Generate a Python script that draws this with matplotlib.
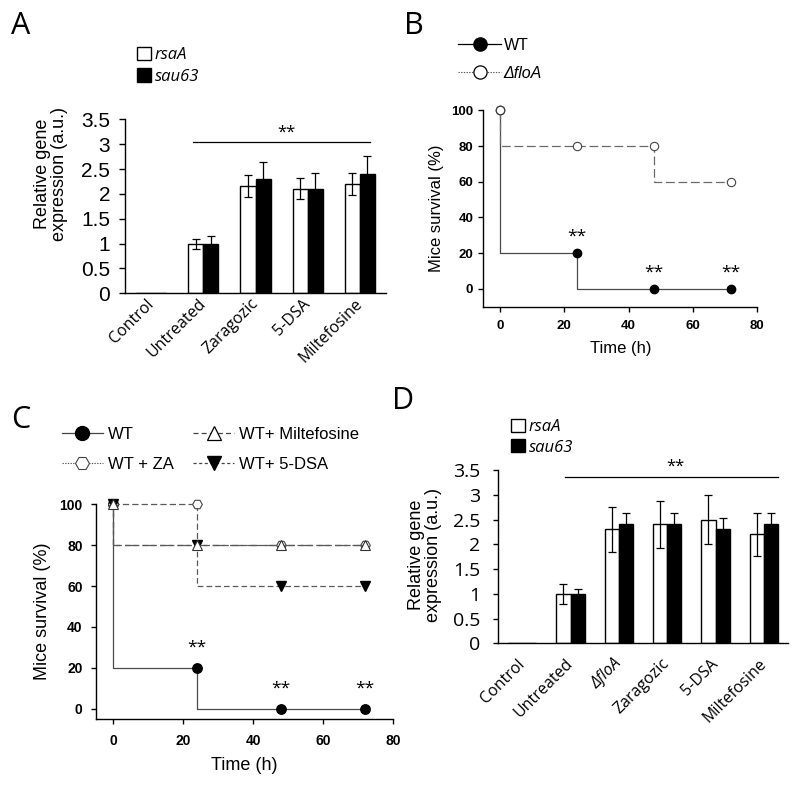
import matplotlib.pyplot as plt
from matplotlib.lines import Line2D
from matplotlib.ticker import FormatStrFormatter
from matplotlib.transforms import ScaledTranslation
import numpy as np

W, H = 800, 786
ARIAL = 'Liberation Sans'
CALIBRI = 'Open Sans'

# panel A - gene expression
a_categories = ["Control", "Untreated", "Zaragozic", "5-DSA", "Miltefosine"]
a_rsaA = [0, 1.0, 2.15, 2.1, 2.2]
a_rsaA_err = [0, 0.1, 0.22, 0.21, 0.22]
a_sau63 = [0, 1.0, 2.3, 2.1, 2.4]
a_sau63_err = [0, 0.15, 0.34, 0.32, 0.36]

# panel D - gene expression
d_categories = ["Control", "Untreated", "ΔfloA", "Zaragozic", "5-DSA", "Miltefosine"]
d_rsaA = [0, 1.0, 2.3, 2.4, 2.5, 2.2]
d_rsaA_err = [0, 0.2, 0.45, 0.48, 0.5, 0.43]
d_sau63 = [0, 1.0, 2.4, 2.4, 2.3, 2.4]
d_sau63_err = [0, 0.1, 0.24, 0.24, 0.24, 0.24]

# panels B, C - survival
time_h = [0, 24, 48, 72]
b_wt = [100, 20, 0, 0]
b_floA = [100, 80, 80, 60]
c_wt = [100, 20, 0, 0]
c_za = [100, 100, 80, 80]
c_milte = [100, 80, 80, 80]
c_dsa = [100, 80, 60, 60]
wt_signif = [False, True, True, True]


def px_axes(fig, left, top, right, bottom):
    return fig.add_axes([left / W, 1 - bottom / H, (right - left) / W, (bottom - top) / H])


def bar_panel(fig, ax, cats, rsa, rsa_err, sau, sau_err, sig_span, sig_y, star_x, lab_dx, lab_pad):
    x = np.arange(len(cats))
    w = 0.29
    rsa, sau = np.array(rsa), np.array(sau)
    has = rsa > 0
    b1 = ax.bar(x - w, rsa, w, align='edge', color='white', edgecolor='black', lw=1.0, label='rsaA', zorder=2)
    b2 = ax.bar(x, sau, w, align='edge', color='black', edgecolor='black', lw=1.0, label='sau63', zorder=2)
    ax.errorbar((x - w / 2)[has], rsa[has], yerr=np.array(rsa_err)[has], fmt='none',
                ecolor='black', elinewidth=0.9, capsize=2.8, capthick=0.9, zorder=3)
    ax.errorbar((x + w / 2)[has], sau[has], yerr=np.array(sau_err)[has], fmt='none',
                ecolor='black', elinewidth=0.9, capsize=2.8, capthick=0.9, zorder=3)
    ax.plot(sig_span, [sig_y, sig_y], color='black', lw=0.9)
    ax.text(star_x, sig_y + 0.04, '**', ha='center', va='bottom', fontsize=12, family=CALIBRI)
    ax.set_xlim(-0.5, len(cats) - 0.5)
    ax.set_ylim(0, 3.5)
    ax.set_yticks(np.arange(0, 3.51, 0.5))
    ax.yaxis.set_major_formatter(FormatStrFormatter('%g'))
    ax.set_xticks(x)
    ax.set_xticklabels(cats, rotation=45, ha='right', va='center', rotation_mode='anchor',
                       family=[CALIBRI, 'DejaVu Sans'], fontsize=11.5)
    shift = ScaledTranslation(lab_dx / 100, 0, fig.dpi_scale_trans)
    for lab in ax.get_xticklabels():
        lab.set_transform(lab.get_transform() + shift)
        if lab.get_text().startswith('Δ'):
            lab.set_style('italic')
    ax.tick_params(axis='x', length=0, pad=lab_pad)
    for s in ['top', 'right']:
        ax.spines[s].set_visible(False)
    ax.spines['left'].set_linewidth(1.0)
    ax.spines['bottom'].set_linewidth(1.0)
    return b1, b2


def surv_panel(ax, xlim, ylim, tick_size, pad_y, pad_x):
    ax.set_xlim(*xlim)
    ax.set_ylim(*ylim)
    ax.set_xticks([0, 20, 40, 60, 80])
    ax.set_yticks([0, 20, 40, 60, 80, 100])
    for s in ['top', 'right']:
        ax.spines[s].set_visible(False)
    for s in ['left', 'bottom']:
        ax.spines[s].set_linewidth(1.0)
    ax.tick_params(axis='both', direction='out', length=3.5, width=1.0)
    ax.tick_params(axis='y', pad=pad_y)
    ax.tick_params(axis='x', pad=pad_x)
    for lab in ax.get_xticklabels() + ax.get_yticklabels():
        lab.set_fontfamily(ARIAL)
        lab.set_fontweight('bold')
        lab.set_fontsize(tick_size)


def stars(ax, t, y, flags, off):
    for ti, yi, f in zip(t, y, flags):
        if f:
            ax.text(ti, yi + off, '**', ha='center', va='center', fontsize=12.5, family=CALIBRI)


fig = plt.figure(figsize=(8, 7.86), dpi=100)

# ---------------- A ----------------
axA = px_axes(fig, 125, 119.3, 386, 293.3)
hA = bar_panel(fig, axA, a_categories, a_rsaA, a_rsaA_err, a_sau63, a_sau63_err,
               [0.8, 4.2], 3.04, 2.6, 13, 6)
axA.tick_params(axis='y', length=4.3, width=1.0, pad=6.5, labelsize=15)
for lab in axA.get_yticklabels():
    lab.set_fontfamily(ARIAL)
axA.legend(handles=hA, loc='upper left', bbox_to_anchor=(137 / W, 1 - 47 / H),
           bbox_transform=fig.transFigure, frameon=False,
           prop={'family': CALIBRI, 'style': 'italic', 'size': 12},
           handlelength=0.85, handleheight=0.85, handletextpad=0.2,
           labelspacing=0.3, borderpad=0, borderaxespad=0)
fig.text(51 / W, 1 - 174 / H, "Relative gene\nexpression (a.u.)", rotation=90,
         ha='center', va='center', multialignment='center', family=ARIAL, fontsize=13,
         linespacing=1.05)

# ---------------- D ----------------
axD = px_axes(fig, 498, 470, 788, 643.3)
hD = bar_panel(fig, axD, d_categories, d_rsaA, d_rsaA_err, d_sau63, d_sau63_err,
               [0.88, 5.3], 3.36, 3.18, 11, 13)
axD.tick_params(axis='y', length=3.6, width=1.0, pad=9, labelsize=14)
for lab in axD.get_yticklabels():
    lab.set_fontfamily(CALIBRI)
axD.legend(handles=hD, loc='upper left', bbox_to_anchor=(511 / W, 1 - 419 / H),
           bbox_transform=fig.transFigure, frameon=False,
           prop={'family': CALIBRI, 'style': 'italic', 'size': 12},
           handlelength=0.85, handleheight=0.85, handletextpad=0.2,
           labelspacing=0.22, borderpad=0, borderaxespad=0)
fig.text(425 / W, 1 - 555 / H, "Relative gene\nexpression (a.u.)", rotation=90,
         ha='center', va='center', multialignment='center', family=ARIAL, fontsize=13,
         linespacing=1.05)

# ---------------- B ----------------
axB = px_axes(fig, 483, 110.3, 757, 306.7)
axB.plot(time_h, b_wt, drawstyle='steps-pre', color='#4a4a4a', lw=0.9,
         marker='o', ms=6, mfc='black', mec='black', clip_on=False, zorder=3)
axB.plot(time_h, b_floA, drawstyle='steps-pre', color='#6a6a6a', lw=0.9, dashes=(7, 3),
         marker='o', ms=6, mfc='white', mec='#444444', mew=0.8, clip_on=False, zorder=4)
stars(axB, time_h, b_wt, wt_signif, 9)
surv_panel(axB, (-5.3, 80), (-10, 100), 9.5, 3.5, 6)
fig.text(436 / W, 1 - 208 / H, "Mice survival (%)", rotation=90, ha='center', va='center',
         family=ARIAL, fontsize=12)
fig.text(620.5 / W, 1 - 348 / H, "Time (h)", ha='center', va='center', family=ARIAL, fontsize=12)
b_handles = [
    Line2D([], [], color='black', lw=0.9, marker='o', ms=9.5, mfc='black', mec='black'),
    Line2D([], [], color='#555555', lw=0.8, ls=(0, (1.2, 1.2)), marker='o', ms=9.5,
           mfc='white', mec='black', mew=0.9),
]
fig.legend(b_handles, ['WT', 'ΔfloA'], loc='upper left', bbox_to_anchor=(458 / W, 1 - 38 / H),
           frameon=False, prop={'family': ARIAL, 'size': 11.5},
           handlelength=2.7, handletextpad=0.15, labelspacing=0.8, borderpad=0, borderaxespad=0)
leg = fig.legends[-1]
leg.get_texts()[1].set_style('italic')

# ---------------- C ----------------
axC = px_axes(fig, 95.7, 504.3, 393, 719)
axC.plot(time_h, c_wt, drawstyle='steps-pre', color='#4a4a4a', lw=0.9,
         marker='o', ms=6.8, mfc='black', mec='black', clip_on=False, zorder=3)
axC.plot(time_h, c_za, drawstyle='steps-pre', color='#5a5a5a', lw=0.9, dashes=(5, 2.5),
         marker='H', ms=7, mfc='white', mec='#444444', mew=0.8, clip_on=False, zorder=4)
axC.plot(time_h, c_dsa, drawstyle='steps-pre', color='#5a5a5a', lw=0.9, dashes=(4.5, 2.5),
         marker='v', ms=7, mfc='black', mec='black', clip_on=False, zorder=5)
axC.plot(time_h, c_milte, drawstyle='steps-pre', color='#5a5a5a', lw=0.9, dashes=(10, 4),
         marker='^', ms=7, mfc='white', mec='#333333', mew=0.8, clip_on=False, zorder=6)
stars(axC, time_h, c_wt, wt_signif, 10)
surv_panel(axC, (-5, 80), (-5, 100), 10, 6, 7)
fig.text(42.5 / W, 1 - 611.7 / H, "Mice survival (%)", rotation=90, ha='center', va='center',
         family=ARIAL, fontsize=13)
fig.text(244 / W, 1 - 765 / H, "Time (h)", ha='center', va='center', family=ARIAL, fontsize=13)
c_handles = [
    Line2D([], [], color='#444444', lw=0.9, marker='o', ms=10, mfc='black', mec='black'),
    Line2D([], [], color='#555555', lw=0.8, ls=(0, (1.2, 1.2)), marker='H', ms=10,
           mfc='white', mec='#444444', mew=0.8),
    Line2D([], [], color='#444444', lw=0.9, ls=(0, (4, 2.5)), marker='^', ms=10,
           mfc='white', mec='black', mew=0.9),
    Line2D([], [], color='#444444', lw=0.9, ls=(0, (2.5, 2)), marker='v', ms=10,
           mfc='black', mec='black'),
]
fig.legend(c_handles, ['WT', 'WT + ZA', 'WT+ Miltefosine', 'WT+ 5-DSA'], ncol=2,
           loc='upper left', bbox_to_anchor=(61.7 / W, 1 - 427 / H),
           frameon=False, prop={'family': ARIAL, 'size': 12},
           handlelength=2.45, handletextpad=0.3, labelspacing=0.9, columnspacing=1.2,
           borderpad=0, borderaxespad=0)

# panel letters
for letter, px, py in [('A', 11, 34), ('B', 404, 34), ('C', 11, 428), ('D', 392, 409)]:
    fig.text(px / W, 1 - py / H, letter, ha='left', va='baseline', family=CALIBRI, fontsize=22)

fig.savefig('out.png', dpi=100)
